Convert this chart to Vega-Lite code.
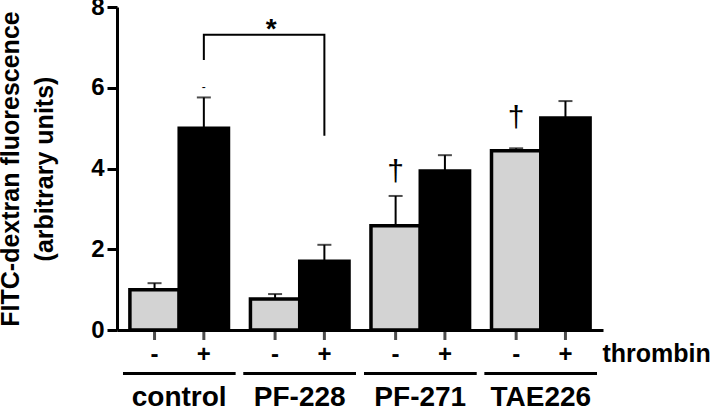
{
  "$schema": "https://vega.github.io/schema/vega-lite/v6.json",
  "width": 486,
  "height": 323,
  "autosize": {"type": "none"},
  "padding": {"left": 117, "top": 7, "right": 114, "bottom": 79},
  "background": "white",
  "config": {"view": {"stroke": null}, "font": "Liberation Sans"},
  "datasets": {
    "bars": [
      {"group": "control", "thrombin": "-", "value": 1.0, "hi": 1.16},
      {"group": "control", "thrombin": "+", "value": 5.0, "hi": 5.76},
      {"group": "PF-228", "thrombin": "-", "value": 0.77, "hi": 0.89},
      {"group": "PF-228", "thrombin": "+", "value": 1.7, "hi": 2.11},
      {"group": "PF-271", "thrombin": "-", "value": 2.58, "hi": 3.32},
      {"group": "PF-271", "thrombin": "+", "value": 3.94, "hi": 4.33},
      {"group": "TAE226", "thrombin": "-", "value": 4.44, "hi": 4.5},
      {"group": "TAE226", "thrombin": "+", "value": 5.25, "hi": 5.67}
    ]
  },
  "layer": [
    {
      "data": {"name": "bars"},
      "mark": {"type": "tick", "orient": "vertical", "size": 20, "thickness": 3, "color": "black"},
      "encoding": {
        "x": {"field": "group", "type": "nominal", "sort": ["control", "PF-228", "PF-271", "TAE226"]},
        "xOffset": {"field": "thrombin", "type": "nominal", "sort": ["-", "+"]},
        "y": {"datum": 0, "type": "quantitative"}
      }
    },
    {
      "data": {"name": "bars"},
      "mark": {"type": "bar", "width": {"band": 1.14}, "color": "black", "yOffset": 42, "y2Offset": 45},
      "encoding": {
        "x": {"field": "group", "type": "nominal", "sort": ["control", "PF-228", "PF-271", "TAE226"]},
        "y": {"datum": 0, "type": "quantitative"},
        "y2": {"datum": 0}
      }
    },
    {
      "data": {"name": "bars"},
      "mark": {"type": "rule", "color": "black", "strokeWidth": 2},
      "encoding": {
        "x": {"field": "group", "type": "nominal", "sort": ["control", "PF-228", "PF-271", "TAE226"]},
        "xOffset": {"field": "thrombin", "type": "nominal", "sort": ["-", "+"]},
        "y": {"field": "value", "type": "quantitative"},
        "y2": {"field": "hi"}
      }
    },
    {
      "data": {"name": "bars"},
      "mark": {"type": "tick", "orient": "horizontal", "size": 14, "thickness": 2, "color": "black"},
      "encoding": {
        "x": {"field": "group", "type": "nominal", "sort": ["control", "PF-228", "PF-271", "TAE226"]},
        "xOffset": {"field": "thrombin", "type": "nominal", "sort": ["-", "+"]},
        "y": {"field": "hi", "type": "quantitative"}
      }
    },
    {
      "data": {"name": "bars"},
      "mark": {"type": "bar", "stroke": "black", "strokeWidth": 3.5},
      "encoding": {
        "x": {
          "field": "group", "type": "nominal",
          "sort": ["control", "PF-228", "PF-271", "TAE226"],
          "scale": {"paddingInner": 0.182, "paddingOuter": 0.107},
          "axis": {
            "title": null, "labelAngle": 0, "labelAlign": "center", "labelBaseline": "top",
            "labelFontSize": 28, "labelFontWeight": "bold",
            "labelColor": "black", "labelPadding": 53, "ticks": false, "tickSize": 0,
            "domainColor": "black", "domainWidth": 3
          }
        },
        "xOffset": {
          "field": "thrombin", "type": "nominal", "sort": ["-", "+"],
          "scale": {"paddingInner": 0, "paddingOuter": 0}
        },
        "y": {
          "field": "value", "type": "quantitative",
          "scale": {"domain": [0, 8], "nice": false},
          "axis": {
            "values": [0, 2, 4, 6, 8], "grid": false,
            "domainColor": "black", "domainWidth": 3,
            "tickColor": "black", "tickWidth": 3, "tickSize": 10,
            "labelFontSize": 24, "labelFontWeight": "bold", "labelColor": "black", "labelPadding": 3,
            "title": ["FITC-dextran fluorescence", "(arbitrary units)"],
            "titleFontSize": 25, "titleFontWeight": "bold", "titleColor": "black",
            "titleLineHeight": 34, "titlePadding": 33
          }
        },
        "fill": {
          "field": "thrombin", "type": "nominal",
          "scale": {"domain": ["-", "+"], "range": ["#d3d3d3", "#000000"]},
          "legend": null
        }
      }
    },
    {
      "data": {"name": "bars"},
      "mark": {"type": "text", "fontSize": 24, "fontWeight": "bold", "color": "black", "baseline": "alphabetic", "dy": 32},
      "encoding": {
        "x": {"field": "group", "type": "nominal", "sort": ["control", "PF-228", "PF-271", "TAE226"]},
        "xOffset": {"field": "thrombin", "type": "nominal", "sort": ["-", "+"]},
        "y": {"datum": 0, "type": "quantitative"},
        "text": {"field": "thrombin"}
      }
    },
    {
      "data": {"values": [{"group": "TAE226", "thrombin": "+", "label": "thrombin"}]},
      "mark": {"type": "text", "fontSize": 25, "fontWeight": "bold", "color": "black", "baseline": "alphabetic", "align": "left", "dy": 32, "dx": 37},
      "encoding": {
        "x": {"field": "group", "type": "nominal", "sort": ["control", "PF-228", "PF-271", "TAE226"]},
        "xOffset": {"field": "thrombin", "type": "nominal", "sort": ["-", "+"]},
        "y": {"datum": 0, "type": "quantitative"},
        "text": {"field": "label"}
      }
    },
    {
      "data": {"values": [
        {"group": "PF-271", "thrombin": "-", "y": 3.91, "label": "†"},
        {"group": "TAE226", "thrombin": "-", "y": 5.25, "label": "†"}
      ]},
      "mark": {"type": "text", "fontSize": 30, "fontWeight": "normal", "color": "black", "baseline": "middle"},
      "encoding": {
        "x": {"field": "group", "type": "nominal", "sort": ["control", "PF-228", "PF-271", "TAE226"]},
        "xOffset": {"field": "thrombin", "type": "nominal", "sort": ["-", "+"]},
        "y": {"field": "y", "type": "quantitative"},
        "text": {"field": "label"}
      }
    },
    {
      "data": {"values": [{"group": "PF-228", "thrombin": "-", "y": 7.22, "label": "*"}]},
      "mark": {"type": "text", "fontSize": 28, "fontWeight": "bold", "color": "black", "baseline": "alphabetic", "dx": -4},
      "encoding": {
        "x": {"field": "group", "type": "nominal", "sort": ["control", "PF-228", "PF-271", "TAE226"]},
        "xOffset": {"field": "thrombin", "type": "nominal", "sort": ["-", "+"]},
        "y": {"field": "y", "type": "quantitative"},
        "text": {"field": "label"}
      }
    },
    {
      "data": {"values": [{"group": "control", "thrombin": "+", "y": 6.02, "label": "-"}]},
      "mark": {"type": "text", "fontSize": 12, "color": "black", "baseline": "middle"},
      "encoding": {
        "x": {"field": "group", "type": "nominal", "sort": ["control", "PF-228", "PF-271", "TAE226"]},
        "xOffset": {"field": "thrombin", "type": "nominal", "sort": ["-", "+"]},
        "y": {"field": "y", "type": "quantitative"},
        "text": {"field": "label"}
      }
    },
    {
      "data": {"values": [
        {"group": "control", "thrombin": "+", "y": 6.69, "k": 1},
        {"group": "control", "thrombin": "+", "y": 7.31, "k": 2},
        {"group": "PF-228", "thrombin": "+", "y": 7.31, "k": 3},
        {"group": "PF-228", "thrombin": "+", "y": 4.81, "k": 4}
      ]},
      "mark": {"type": "line", "color": "black", "strokeWidth": 2},
      "encoding": {
        "x": {"field": "group", "type": "nominal", "sort": ["control", "PF-228", "PF-271", "TAE226"]},
        "xOffset": {"field": "thrombin", "type": "nominal", "sort": ["-", "+"]},
        "y": {"field": "y", "type": "quantitative"},
        "order": {"field": "k", "type": "quantitative"}
      }
    }
  ]
}
